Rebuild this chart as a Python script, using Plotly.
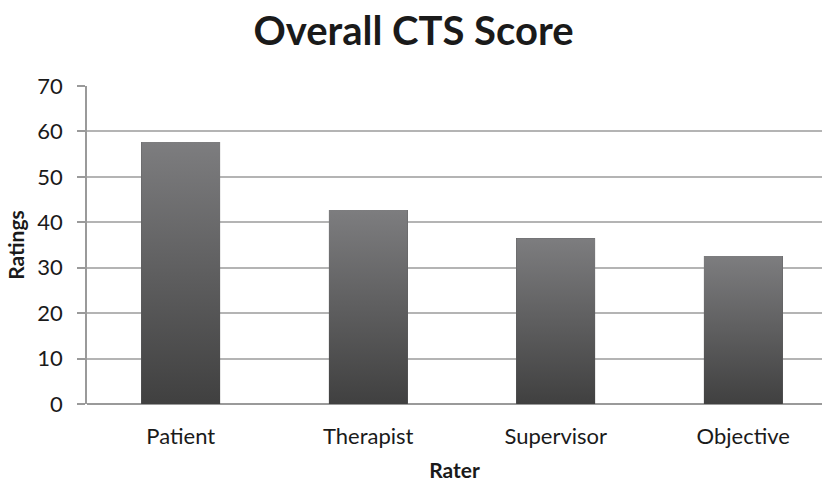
import plotly.graph_objects as go

raters = ["Patient", "Therapist", "Supervisor", "Objective"]
ratings = [57.7, 42.7, 36.5, 32.6]
y_ticks = [0, 10, 20, 30, 40, 50, 60, 70]

FONT = "Lato"
BAR_W = 0.42
idx = list(range(len(raters)))

fig = go.Figure()
fig.add_trace(go.Bar(
    x=idx, y=ratings, width=BAR_W,
    marker=dict(color="#5c5c5e", line=dict(width=0)),
    showlegend=False, hoverinfo="x+y",
))
# vertical gradient overlay for each bar, computed from the same data
for i, v in zip(idx, ratings):
    fig.add_trace(go.Scatter(
        x=[i - BAR_W / 2, i + BAR_W / 2, i + BAR_W / 2, i - BAR_W / 2, i - BAR_W / 2],
        y=[0, 0, v, v, 0],
        mode="lines", line=dict(width=0), fill="toself",
        fillgradient=dict(type="vertical",
                          colorscale=[[0, "#404040"], [1, "#7d7d7f"]]),
        showlegend=False, hoverinfo="skip",
    ))

fig.update_layout(
    width=827, height=482,
    margin=dict(l=87, r=5, t=86, b=78),
    paper_bgcolor="white", plot_bgcolor="white",
    font=dict(family=FONT, color="#1a1a1a", size=22),
    title=dict(text="<b>Overall CTS Score</b>", x=0.5, xanchor="center",
               y=0.936, yanchor="middle",
               font=dict(family=FONT, size=40, color="#1a1a1a")),
    xaxis=dict(
        range=[-0.5, 3.42], tickmode="array", tickvals=idx, ticktext=raters,
        showgrid=False, zeroline=False, showline=False, ticks="",
        ticklabelstandoff=17, automargin=False,
        title=dict(text="<b>Rater</b>", font=dict(size=21), standoff=23),
        fixedrange=True,
    ),
    yaxis=dict(
        range=[0, 70], tickmode="array", tickvals=y_ticks,
        showgrid=True, gridcolor="#b4b4b4", gridwidth=1.5,
        zeroline=True, zerolinecolor="#9a9a9a", zerolinewidth=2,
        showline=True, linecolor="#9a9a9a", linewidth=1.5,
        ticks="outside", ticklen=8, tickcolor="#9a9a9a", tickwidth=1.5,
        ticklabelstandoff=10, automargin=False,
        title=dict(text="<b>Ratings</b>", font=dict(size=21), standoff=7),
        fixedrange=True,
    ),
    bargap=0,
)

fig.write_html("out.html", config={"displayModeBar": False},
               post_script="document.body.style.margin='0';")
